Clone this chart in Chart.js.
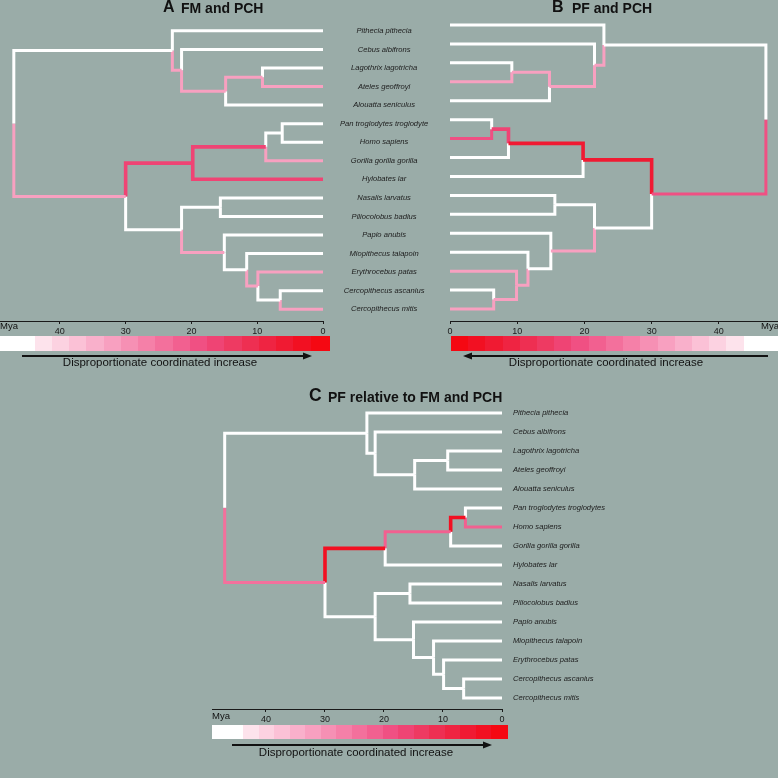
<!DOCTYPE html>
<html><head><meta charset="utf-8">
<script src="https://cdn.jsdelivr.net/npm/chart.js@4.4.1/dist/chart.umd.min.js"></script>
<style>
html,body{margin:0;padding:0;width:778px;height:778px;overflow:hidden;background:#9aaca8;}
#wrap{position:relative;width:778px;height:778px;}
canvas{position:absolute;}
.t{position:absolute;line-height:1;white-space:nowrap;font-family:"Liberation Sans",Arial,Helvetica,sans-serif;color:#111;}
</style></head><body><div id="wrap">
<canvas id="cA" width="449" height="380" style="left:0px;top:0px"></canvas>
<canvas id="cB" width="338" height="380" style="left:440px;top:0px"></canvas>
<canvas id="cC" width="578" height="398" style="left:200px;top:380px"></canvas>
</div>
<script>
// ---------------- DATA ----------------
const tipNames = ['Pithecia pithecia','Cebus albifrons','Lagothrix lagotricha','Ateles geoffroyi','Alouatta seniculus',
  'Pan troglodytes troglodytes','Homo sapiens','Gorilla gorilla gorilla','Hylobates lar','Nasalis larvatus',
  'Piliocolobus badius','Papio anubis','Miopithecus talapoin','Erythrocebus patas','Cercopithecus ascanius','Cercopithecus mitis'];
// labels printed in the column between panels A and B
const middleLabels = ['Pithecia pithecia','Cebus albifrons','Lagothrix lagotricha','Ateles geoffroyi','Alouatta seniculus',
  'Pan troglodytes troglodyte','Homo sapiens','Gorilla gorilla gorilla','Hylobates lar','Nasalis larvatus',
  'Piliocolobus badius','Papio anubis','Miopithecus talapoin','Erythrocebus patas','Cercopithecus ascanius','Cercopithecus mitis'];
const nodeNames = ['Root','Platyrrhini','Cebidae+Atelidae','Atelidae','Lagothrix+Ateles','Catarrhini','Hominoidea',
  'Hominidae','Pan+Homo','Cercopithecidae','Colobinae','Cercopithecinae','Cercopithecini','Erythrocebus+Cercopithecus','Cercopithecus'];
const nodeAgesMya = [47, 22.9, 21.5, 14.8, 9.2, 30, 19.8, 8.7, 6.2, 21.5, 15.6, 15.0, 11.6, 9.9, 6.5];
const nodeChildren = [
  ['Platyrrhini','Catarrhini'],
  ['Pithecia pithecia','Cebidae+Atelidae'],
  ['Cebus albifrons','Atelidae'],
  ['Lagothrix+Ateles','Alouatta seniculus'],
  ['Lagothrix lagotricha','Ateles geoffroyi'],
  ['Hominoidea','Cercopithecidae'],
  ['Hominidae','Hylobates lar'],
  ['Pan+Homo','Gorilla gorilla gorilla'],
  ['Pan troglodytes troglodytes','Homo sapiens'],
  ['Colobinae','Cercopithecinae'],
  ['Nasalis larvatus','Piliocolobus badius'],
  ['Papio anubis','Cercopithecini'],
  ['Miopithecus talapoin','Erythrocebus+Cercopithecus'],
  ['Erythrocebus patas','Cercopithecus'],
  ['Cercopithecus ascanius','Cercopithecus mitis']
];
const xTickValues = [0, 10, 20, 30, 40];
// colour key, from lowest (white) to highest (red) disproportionate increase
const legendPalette = ['#ffffff','#ffffff','#fde3ec','#fcd2e1','#fbc1d6','#f9b0cb','#f8a0c0','#f690b4','#f580a8',
  '#f3709c','#f26090','#f05083','#ef4474','#ee3a62','#ee2f52','#ef2442','#f01a32','#f21022','#f50812'];
// rate level (index into legendPalette) of each branch, two per node in nodeChildren order
const rateLevelsA = [0,6, 0,6, 0,6, 6,0, 0,6, 12,0, 12,12, 0,6, 0,0, 0,6, 0,0, 0,0, 0,6, 6,0, 0,6];
const rateLevelsB = [0,11, 0,6, 0,6, 6,0, 0,6, 16,0, 16,0, 12,0, 0,11, 0,6, 0,0, 0,0, 0,6, 6,6, 0,6];
const rateLevelsC = [0,9, 0,0, 0,0, 0,0, 0,0, 17,0, 10,0, 17,0, 0,10, 0,0, 0,0, 0,0, 0,0, 0,0, 0,0];

// ---------------- LAYOUT HELPERS ----------------
const FONT = '"Liberation Sans", Arial, Helvetica, sans-serif';
function nodeIndex(name){ return nodeNames.indexOf(name); }
function yOf(name){
  const ti = tipNames.indexOf(name);
  if (ti >= 0) return ti;
  const ch = nodeChildren[nodeIndex(name)];
  return (yOf(ch[0]) + yOf(ch[1])) / 2;
}
function ageOf(name){
  const ni = nodeIndex(name);
  return ni >= 0 ? nodeAgesMya[ni] : 0;
}
function buildDatasets(levels){
  const ds = [];
  let k = 0;
  nodeChildren.forEach((pair, ni) => {
    const pName = nodeNames[ni];
    const px = nodeAgesMya[ni], py = yOf(pName);
    pair.forEach(c => {
      const lv = levels[k++];
      const cy = yOf(c), cx = ageOf(c);
      ds.push({
        data: [{x: px, y: py}, {x: px, y: cy}, {x: cx, y: cy}],
        borderColor: legendPalette[lv],
        borderWidth: lv >= 12 ? 3.6 : 3,
        showLine: true, pointRadius: 0, pointHoverRadius: 0, tension: 0,
        borderCapStyle: 'butt', borderJoinStyle: 'miter', clip: false
      });
    });
  });
  return ds;
}

function xScale(max, reverse){
  return {
    type: 'linear', min: 0, max: max, reverse: reverse, position: 'bottom',
    grid: {display: true, drawOnChartArea: false, drawTicks: true, tickLength: 3, color: '#1a1a1a', lineWidth: 1},
    border: {display: true, color: '#1a1a1a', width: 1},
    ticks: {font: {family: FONT, size: 9}, color: '#1a1a1a', padding: 2, maxRotation: 0, autoSkip: false},
    afterBuildTicks: s => { s.ticks = xTickValues.map(v => ({value: v})); },
    afterFit: s => { s.height = 14; }
  };
}
function yScale(max, show, labels, align, pad, width){
  const o = {
    type: 'linear', min: -0.5, max: max, reverse: true, position: 'right', display: show,
    grid: {display: false, drawTicks: false}, border: {display: false},
    afterBuildTicks: s => { s.ticks = tipNames.map((_, i) => ({value: i})); }
  };
  if (show){
    o.ticks = {font: {family: FONT, size: 7.6, style: 'italic'}, color: '#1c1c1c', crossAlign: align,
      padding: pad, autoSkip: false, callback: (v, i) => labels[i]};
    o.afterFit = s => { s.width = width; };
  }
  return o;
}

// colour key + arrow drawn under the axis
const keyPlugin = {
  id: 'key',
  afterDraw(chart, args, o){
    const ctx = chart.ctx;
    const n = legendPalette.length;
    const w = (o.x1 - o.x0) / n;
    ctx.save();
    for (let i = 0; i < n; i++){
      const col = o.reversed ? legendPalette[n - 1 - i] : legendPalette[i];
      ctx.fillStyle = col;
      ctx.fillRect(Math.round(o.x0 + i * w), o.y, Math.ceil(w) + 1, o.h);
    }
    // arrow
    const dir = Math.sign(o.a1 - o.a0);
    ctx.strokeStyle = '#111'; ctx.fillStyle = '#111'; ctx.lineWidth = 2;
    ctx.beginPath(); ctx.moveTo(o.a0, o.ay); ctx.lineTo(o.a1 - dir * 7, o.ay); ctx.stroke();
    ctx.beginPath(); ctx.moveTo(o.a1, o.ay); ctx.lineTo(o.a1 - dir * 9, o.ay - 3.5); ctx.lineTo(o.a1 - dir * 9, o.ay + 3.5); ctx.closePath(); ctx.fill();
    ctx.restore();
  }
};

function makeChart(id, datasets, scales, padding, key){
  return new Chart(document.getElementById(id), {
    type: 'scatter',
    data: {datasets: datasets},
    options: {
      responsive: false, animation: false, devicePixelRatio: 1, events: [],
      layout: {padding: padding},
      scales: scales,
      plugins: {legend: {display: false}, tooltip: {enabled: false}, title: {display: false}, key: key}
    },
    plugins: [keyPlugin]
  });
}

// Panel A
makeChart('cA', buildDatasets(rateLevelsA),
  {x: xScale(49.1, true), y: yScale(15.634, true, middleLabels, 'center', 17, 126)},
  {left: 0, right: 0, top: 15.53, bottom: 45},
  {x0: 0, x1: 328, y: 336, h: 15, reversed: false, a0: 22, a1: 312, ay: 356});
// Panel B
makeChart('cB', buildDatasets(rateLevelsB),
  {x: xScale(48.8, false), y: yScale(15.634, false)},
  {left: 10, right: 0, top: 15.53, bottom: 45},
  {x0: 11, x1: 338, y: 336, h: 15, reversed: true, a0: 328, a1: 23, ay: 356});
// Panel C
makeChart('cC', buildDatasets(rateLevelsC),
  {x: xScale(49.15, true), y: yScale(15.58, true, tipNames, 'near', 11, 120)},
  {left: 12, right: 156, top: 23.5, bottom: 55},
  {x0: 12, x1: 307, y: 345, h: 14, reversed: false, a0: 32, a1: 292, ay: 365});

// ---------------- TEXT ----------------
const wrap = document.getElementById('wrap');
function place(text, x, baseline, size, bold, align){
  const d = document.createElement('div');
  d.className = 't';
  d.textContent = text;
  d.style.fontSize = size + 'px';
  d.style.fontWeight = bold ? 'bold' : 'normal';
  d.style.left = x + 'px';
  d.style.top = (baseline - 0.8465 * size) + 'px';
  if (align === 'center') d.style.transform = 'translateX(-50%)';
  if (align === 'right') d.style.transform = 'translateX(-100%)';
  wrap.appendChild(d);
}
place('A', 163, 13, 16, true);
place('FM and PCH', 181, 13, 14, true);
place('B', 552, 13, 16, true);
place('PF and PCH', 572, 13, 14, true);
place('C', 309, 401.5, 17.5, true);
place('PF relative to FM and PCH', 328, 401.5, 14, true);
place('Mya', 0, 329, 9.5, false);
place('Mya', 779, 329, 9.5, false, 'right');
place('Mya', 212, 719, 9.5, false);
place('Disproportionate coordinated increase', 160, 366.7, 11.5, false, 'center');
place('Disproportionate coordinated increase', 606, 366.7, 11.5, false, 'center');
place('Disproportionate coordinated increase', 356, 756.5, 11.5, false, 'center');
</script>
</body></html>
